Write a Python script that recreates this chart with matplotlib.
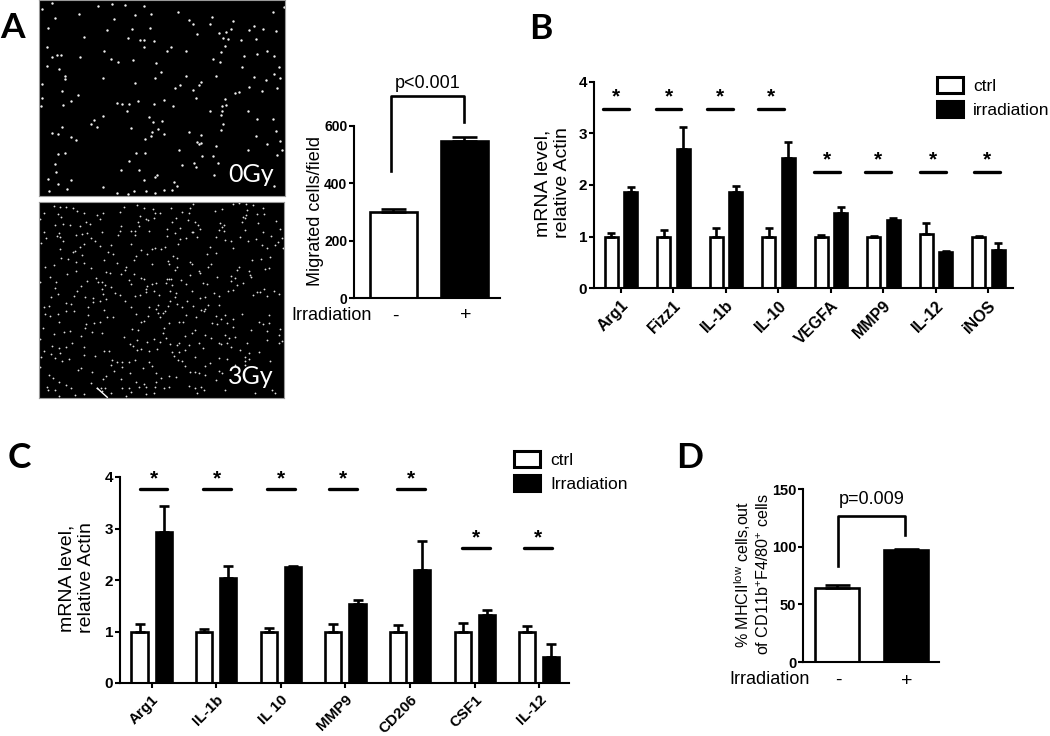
import matplotlib
matplotlib.use("Agg")
import matplotlib.pyplot as plt
from matplotlib.patches import Patch
from matplotlib.transforms import ScaledTranslation
import numpy as np

W, H = 1050, 736
plt.rcParams["font.family"] = ["Liberation Sans", "DejaVu Sans"]
plt.rcParams["mathtext.default"] = "regular"

spots_0gy = [(158,12),(127,30),(165,58),(236,47),(295,23),(337,15),(375,18),(430,21),(403,49),(453,47),(342,61),(534,40),(565,63),(578,77),(628,75),(634,54),(696,66),(146,87),(321,95),(394,90),(448,87),(253,114),(384,119),(418,124),(432,125),(462,127),(590,107),(656,103),(677,99),(692,91),(668,118),(681,121),(720,124),(746,93),(760,82),(787,92),(826,97),(816,39),(850,25),(764,121),(141,145),(432,144),(311,157),(513,146),(501,155),(558,157),(660,160),(673,141),(769,166),(798,155),(157,174),(173,168),(185,169),(241,173),(334,180),(398,183),(353,188),(637,180),(657,190),(729,171),(818,172),(143,200),(177,209),(467,193),(725,203),(833,203),(197,232),(196,240),(308,236),(465,237),(481,218),(556,232),(646,230),(760,233),(794,242),(818,226),(838,237),(127,256),(404,252),(540,257),(524,268),(601,250),(595,258),(578,274),(745,263),(782,277),(828,268),(187,276),(233,288),(126,298),(212,307),(124,320),(191,319),(352,311),(367,314),(388,314),(460,316),(517,320),(490,303),(414,305),(585,296),(672,300),(704,283),(714,278),(676,319),(665,320),(381,337),(629,337),(665,337),(660,349),(743,337),(309,350),(445,353),(282,364),(272,375),(292,383),(484,366),(459,369),(768,360),(815,361),(668,374),(187,384),(393,386),(473,391),(158,401),(176,404),(213,414),(229,423),(454,399),(491,404),(452,412),(566,398),(600,408),(765,410),(661,392),(825,395),(433,421),(407,460),(435,462),(590,428),(595,434),(602,431),(645,441),(797,435),(836,425),(535,453),(844,452),(176,464),(197,461),(605,470),(638,470),(828,468),(741,452),(388,485),(580,490),(166,495),(545,497),(587,502),(652,492),(364,513),(417,513),(168,517),(470,528),(463,534),(640,526),(145,539),(213,543),(432,541),(520,547),(530,560),(174,553),(310,563),(203,570),(147,574),(352,582),(383,584),(400,574),(438,576),(490,572),(515,572),(465,581),(820,560)]

# spots of the 3Gy micrograph, one list per quadrant crop (3x)
spots_3gy_q1 = [(46,13),(64,15),(80,15),(101,19),(114,27),(135,34),(14,34),(58,36),(2,50),(66,45),(47,69),(71,65),(94,68),(124,73),(142,60),(152,66),(182,52),(175,40),(192,32),(242,29),(254,16),(295,8),(315,17),(341,20),(349,34),(362,33),(303,41),(322,50),(328,54),(345,48),(297,59),(300,72),(245,71),(275,87),(289,87),(331,87),(238,100),(243,88),(188,90),(143,92),(128,97),(110,99),(60,92),(54,102),(62,106),(15,90),(20,107),(72,116),(157,107),(167,117),(182,133),(135,126),(123,135),(108,146),(102,151),(62,142),(5,123),(277,126),(287,100),(338,140),(347,137),(365,142),(305,143),(323,157),(292,163),(284,174),(215,130),(207,150),(222,157),(195,174),(235,184),(128,158),(67,167),(88,172),(110,180),(134,182),(44,190),(17,194),(155,198),(112,207),(262,196),(257,203),(340,185),(200,210),(213,213),(245,215),(284,217),(84,215),(32,224),(172,227),(176,240),(190,240),(145,236),(270,233),(305,228),(315,231),(276,245),(340,246),(352,243),(3,240),(52,241),(48,258),(127,251),(188,262),(197,250),(324,252),(322,262),(322,270),(115,268),(215,255),(228,273),(242,278),(58,277),(36,285),(104,281),(137,284),(162,288),(192,276),(202,290),(288,282),(303,280),(345,268),(360,278)]
spots_3gy_q2 = [(92,6),(212,5),(232,2),(252,7),(273,8),(303,18),(180,21),(255,24),(158,27),(28,19),(83,17),(60,29),(80,33),(252,38),(285,35),(305,35),(244,44),(248,48),(41,49),(78,55),(31,60),(100,61),(108,68),(173,63),(186,68),(240,60),(288,62),(342,56),(53,77),(115,82),(180,75),(172,83),(185,88),(248,84),(14,80),(355,80),(90,89),(94,91),(302,89),(40,94),(16,102),(105,104),(163,104),(234,104),(328,102),(360,107),(54,110),(72,107),(188,113),(207,117),(258,116),(283,112),(347,120),(47,127),(300,128),(340,130),(8,134),(144,135),(214,137),(314,137),(363,138),(161,154),(135,157),(33,163),(45,168),(270,174),(297,170),(324,165),(19,178),(20,186),(85,179),(90,186),(148,186),(45,195),(38,203),(137,195),(230,196),(310,200),(320,198),(225,205),(260,208),(112,208),(115,213),(85,220),(265,218),(165,224),(208,222),(268,226),(22,232),(15,231),(27,232),(56,235),(208,236),(218,228),(72,246),(11,243),(122,244),(135,246),(243,244),(224,250),(30,250),(25,267),(41,272),(90,268),(156,274),(198,267),(212,265),(285,270),(295,270),(336,267),(272,280),(314,281),(350,277),(115,287),(128,284),(170,282),(40,285),(305,260)]
spots_3gy_q3 = [(16,20),(30,18),(80,8),(96,12),(147,20),(162,5),(184,3),(257,3),(275,20),(330,20),(358,16),(350,28),(356,40),(17,41),(33,47),(56,42),(80,32),(105,33),(146,45),(196,30),(205,50),(222,50),(290,43),(328,48),(362,52),(184,65),(164,68),(60,67),(305,66),(314,62),(140,72),(12,85),(138,85),(188,100),(159,97),(75,96),(46,102),(92,92),(280,88),(296,90),(125,108),(255,112),(2,118),(100,128),(60,145),(38,138),(80,142),(135,142),(272,131),(294,120),(325,125),(346,116),(362,127),(283,139),(293,150),(305,147),(330,152),(355,147),(14,154),(37,163),(63,160),(6,171),(48,173),(90,176),(70,184),(135,165),(168,168),(210,154),(195,153),(218,180),(235,185),(250,186),(215,195),(270,185),(288,180),(330,185),(340,198),(248,200),(127,203),(117,210),(158,215),(225,213),(272,218),(352,220),(312,205),(2,201),(30,225),(42,235),(200,227),(193,238),(247,238),(60,245),(155,250),(292,246),(315,252),(350,245),(365,235),(25,262),(48,270),(27,270),(80,255),(96,263),(175,265),(187,265),(198,265),(250,265),(270,263),(300,260),(322,262),(348,262),(135,283),(108,284),(60,288),(260,288),(275,277),(188,272),(320,282),(345,278),(215,280)]
spots_3gy_q4 = [(24,4),(45,12),(75,2),(18,18),(10,32),(60,22),(94,17),(137,16),(130,26),(116,30),(127,32),(2,40),(73,45),(102,50),(162,47),(172,15),(190,45),(240,42),(322,45),(178,58),(212,57),(52,67),(62,67),(150,70),(165,72),(195,70),(290,65),(302,72),(322,70),(22,68),(6,84),(100,90),(90,98),(212,80),(268,90),(315,92),(355,88),(350,105),(70,107),(128,104),(188,104),(2,100),(218,112),(200,115),(110,130),(170,130),(178,133),(195,130),(255,130),(352,128),(360,122),(13,115),(50,128),(148,115),(315,120),(25,133),(45,135),(80,135),(122,145),(208,142),(30,155),(50,157),(68,150),(235,150),(262,160),(290,155),(36,168),(48,180),(60,183),(100,172),(170,175),(195,178),(250,172),(250,182),(260,178),(325,182),(145,188),(130,198),(220,195),(70,198),(85,215),(98,217),(110,220),(172,213),(180,220),(250,195),(22,228),(42,232),(128,225),(162,240),(5,265),(20,262),(82,258),(100,265),(118,262),(125,270),(105,280),(190,270),(280,280),(330,270),(340,278)]

# panel A
a_vals = [298, 545]
a_errs = [12, 17]

# panel B
b_genes = ["Arg1", "Fizz1", "IL-1b", "IL-10", "VEGFA", "MMP9", "IL-12", "iNOS"]
b_ctrl = [1.0, 1.0, 1.0, 1.0, 1.0, 1.0, 1.05, 1.0]
b_ctrl_err = [0.07, 0.12, 0.17, 0.17, 0.04, 0.02, 0.21, 0.02]
b_irr = [1.87, 2.7, 1.87, 2.52, 1.46, 1.33, 0.7, 0.75]
b_irr_err = [0.10, 0.43, 0.11, 0.31, 0.12, 0.04, 0.02, 0.13]
b_sig_x = [-0.09, 0.905, 1.88, 2.854, 3.93, 4.90, 5.943, 6.975]
b_sig_y = [3.48, 3.48, 3.48, 3.48, 2.26, 2.26, 2.26, 2.26]

# panel C
c_genes = ["Arg1", "IL-1b", "IL 10", "MMP9", "CD206", "CSF1", "IL-12"]
c_ctrl = [1.0, 1.0, 1.0, 1.0, 1.0, 1.0, 1.0]
c_ctrl_err = [0.14, 0.05, 0.06, 0.14, 0.12, 0.16, 0.10]
c_irr = [2.93, 2.03, 2.26, 1.53, 2.2, 1.33, 0.5]
c_irr_err = [0.50, 0.25, 0.02, 0.08, 0.55, 0.09, 0.25]
c_sig_x = [0.03, 1.01, 2.0, 2.965, 4.01, 5.02, 5.98]
c_sig_y = [3.76, 3.76, 3.76, 3.76, 3.76, 2.62, 2.62]

# panel D
d_vals = [64, 97]
d_errs = [2.5, 1.0]


def add_ax(left, right, top, bottom):
    return fig.add_axes([left / W, 1 - bottom / H, (right - left) / W, (bottom - top) / H])


def ftext(x, y, s, **kw):
    kw.setdefault("ha", "center")
    kw.setdefault("va", "center")
    fig.text(x / W, 1 - y / H, s, **kw)


def style_axes(ax, tick_size):
    ax.patch.set_alpha(0)
    for side in ["top", "right"]:
        ax.spines[side].set_visible(False)
    for side in ["left", "bottom"]:
        ax.spines[side].set_linewidth(1.5)
        ax.spines[side].set_zorder(5)
    ax.tick_params(axis="y", width=1.5, length=3.3, labelsize=tick_size, pad=1.5)
    ax.tick_params(axis="x", width=1.5, length=3.3)
    for lab in ax.get_yticklabels():
        lab.set_fontweight("bold")


def two_bars(ax, vals, errs, width, cap):
    ax.bar([0, 1], vals, width, color=["white", "black"], edgecolor="black", linewidth=1.9)
    ax.errorbar([0, 1], vals, yerr=[[0, 0], errs], fmt="none", ecolor="black",
                elinewidth=1.9, capsize=cap, capthick=1.9, zorder=1)
    ax.set_xticks([])


def grouped(ax, ctrl, ctrl_err, irr, irr_err, genes, offset, width, cap, size, shift):
    x = np.arange(len(genes))
    ax.bar(x - offset, ctrl, width, color="white", edgecolor="black", linewidth=1.9)
    ax.bar(x + offset, irr, width, color="black", edgecolor="black", linewidth=1.9)
    zero = np.zeros(len(genes))
    ax.errorbar(x - offset, ctrl, yerr=[zero, ctrl_err], fmt="none", ecolor="black",
                elinewidth=1.9, capsize=cap, capthick=1.9, zorder=1)
    ax.errorbar(x + offset, irr, yerr=[zero, irr_err], fmt="none", ecolor="black",
                elinewidth=1.9, capsize=cap, capthick=1.9, zorder=1)
    ax.set_xticks(x)
    labs = ax.set_xticklabels(genes, rotation=45, ha="right", rotation_mode="anchor",
                              fontweight="bold", fontsize=size)
    nudge = ScaledTranslation(shift / 100, -1.5 / 100, fig.dpi_scale_trans)
    for lab in labs:
        lab.set_transform(lab.get_transform() + nudge)
    ax.set_yticks([0, 1, 2, 3, 4])


def sig_marks(ax, xs, ys, halfw, star_gap):
    for sx, sy in zip(xs, ys):
        ax.plot([sx - halfw, sx + halfw], [sy, sy], color="black", lw=2.4,
                solid_capstyle="round", clip_on=False)
        ax.text(sx, sy + star_gap, "*", ha="center", va="center", fontsize=15,
                fontweight="bold")


def legend_for(ax, labels, anchor_x, anchor_y):
    ax.legend(handles=[Patch(facecolor="white", edgecolor="black", linewidth=2.2, label=labels[0]),
                       Patch(facecolor="black", edgecolor="black", linewidth=2.2, label=labels[1])],
              loc="upper left", bbox_to_anchor=(anchor_x / W, 1 - anchor_y / H),
              bbox_transform=fig.transFigure, frameon=False, fontsize=12.5,
              handlelength=1.5, handleheight=1.0, handletextpad=0.62,
              labelspacing=0.42, borderpad=0, borderaxespad=0)


fig = plt.figure(figsize=(W / 100, H / 100), dpi=100)
fig.patch.set_facecolor("white")

# micrographs
ax = add_ax(39, 285, 0, 196)
ax.set_facecolor("black")
ax.scatter([p[0] for p in spots_0gy], [p[1] for p in spots_0gy], s=3.0, c="#f0f0f0", linewidths=0)
ax.set_xlim(118, 852)
ax.set_ylim(590, 4)

ax2 = add_ax(39, 284, 202, 398)
ax2.set_facecolor("black")
for spots, ox, oy in [(spots_3gy_q1, 39, 202), (spots_3gy_q2, 162, 202),
                      (spots_3gy_q3, 39, 300), (spots_3gy_q4, 162, 300)]:
    ax2.scatter([ox + p[0] / 3 for p in spots], [oy + p[1] / 3 for p in spots],
                s=1.7, c="#dddddd", linewidths=0)
ax2.plot([97.3, 107.3], [388.3, 397.3], color="white", lw=1.0)
ax2.set_xlim(39, 284)
ax2.set_ylim(398, 202)
for a in [ax, ax2]:
    a.set_xticks([])
    a.set_yticks([])
    for sp in a.spines.values():
        sp.set_color("#999999")
        sp.set_linewidth(0.8)
ftext(251, 175, "0Gy", color="white", fontsize=18, family="Lato")
ftext(251, 377, "3Gy", color="white", fontsize=18, family="Lato")

# panel A bars
ax = add_ax(354, 500, 125.7, 298)
two_bars(ax, a_vals, a_errs, 0.655, 9)
ax.set_xlim(-0.556, 1.5)
ax.set_ylim(0, 600)
ax.set_yticks([0, 200, 400, 600])
style_axes(ax, 10)
ax.plot([-0.04, -0.04, 1.0, 1.0], [442, 704, 704, 614], color="black", lw=1.9, clip_on=False)
ftext(428, 83, "p<0.001", fontsize=13)
ftext(316, 211, "Migrated cells/field", fontsize=13, rotation=90)
ftext(332, 316, "Irradiation", fontsize=13)
ftext(395, 316, "-", fontsize=14)
ftext(466, 316, "+", fontsize=14)

# panel B
ax = add_ax(594, 1013, 81.7, 288.3)
grouped(ax, b_ctrl, b_ctrl_err, b_irr, b_irr_err, b_genes, 0.185, 0.25, 3.2, 11.5, -3)
ax.set_xlim(-0.514, 7.467)
ax.set_ylim(0, 4)
style_axes(ax, 11)
sig_marks(ax, b_sig_x, b_sig_y, 0.245, 0.22)
ftext(553, 183, "mRNA level,\nrelative Actin", fontsize=14, rotation=90, linespacing=1.2)
legend_for(ax, ["ctrl", "irradiation"], 936.5, 77)

# panel C
ax = add_ax(120, 569, 477, 683)
grouped(ax, c_ctrl, c_ctrl_err, c_irr, c_irr_err, c_genes, 0.187, 0.25, 3.6, 11, -5)
ax.set_xlim(-0.49, 6.46)
ax.set_ylim(0, 4)
style_axes(ax, 11)
sig_marks(ax, c_sig_x, c_sig_y, 0.215, 0.2)
ftext(77, 578, "mRNA level,\nrelative Actin", fontsize=14, rotation=90, linespacing=1.2)
legend_for(ax, ["ctrl", "Irradiation"], 513.5, 451)

# panel D
ax = add_ax(803, 939, 489, 662)
two_bars(ax, d_vals, d_errs, 0.63, 9)
ax.set_xlim(-0.493, 1.478)
ax.set_ylim(0, 150)
ax.set_yticks([0, 50, 100, 150])
style_axes(ax, 10.5)
ax.plot([0.01, 0.01, 0.985, 0.985], [83, 126.6, 126.6, 110], color="black", lw=1.9, clip_on=False)
ftext(872, 500, "p=0.009", fontsize=13)
ftext(752, 574, "% MHCII$^{low}$ cells,out\nof CD11b$^{+}$F4/80$^{+}$ cells", fontsize=11.6,
      rotation=90, linespacing=1.15)
ftext(770, 680, "Irradiation", fontsize=13)
ftext(838, 680, "-", fontsize=14)
ftext(907, 681, "+", fontsize=14)

# panel letters
for letter, lx, ly in [("A", 13, 28), ("B", 541, 29), ("C", 19, 458), ("D", 690, 458)]:
    ftext(lx, ly, letter, fontsize=25.5, fontweight="bold", family="Lato")

plt.savefig("out.png", dpi=100)
plt.close()
